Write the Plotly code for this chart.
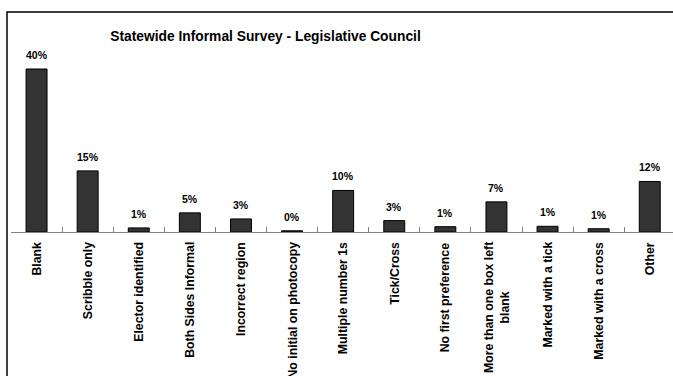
import plotly.graph_objects as go

# Informal vote categories and their share of informal ballots
categories = [
    "Blank",
    "Scribble only",
    "Elector identified",
    "Both Sides Informal",
    "Incorrect region",
    "No initial on photocopy",
    "Multiple number 1s",
    "Tick/Cross",
    "No first preference",
    "More than one box left<br>blank",
    "Marked with a tick",
    "Marked with a cross",
    "Other",
]
shares = [0.400, 0.150, 0.010, 0.047, 0.032, 0.003, 0.102, 0.028, 0.013, 0.074, 0.014, 0.008, 0.124]

title_text = "Statewide Informal Survey - Legislative Council"

FONT = "Liberation Sans, Arial, sans-serif"
W, H = 673, 376
ML, MR, MT, MB = 11, 0, 53, 144

fig = go.Figure()
fig.add_trace(
    go.Bar(
        x=categories,
        y=shares,
        marker=dict(color="#333333", line=dict(color="#000000", width=1)),
        hoverinfo="skip",
    )
)

# value labels above each bar
for c, v in zip(categories, shares):
    fig.add_annotation(
        x=c, y=v, xref="x", yref="y",
        text=f"<b>{v:.0%}</b>",
        showarrow=False, yanchor="bottom", yshift=6,
        font=dict(family=FONT, size=10.5, color="#000000"),
    )

# rotated category labels under the axis
for c in categories:
    fig.add_annotation(
        x=c, y=0, xref="x", yref="paper",
        text=f"<b>{c}</b>",
        showarrow=False, textangle=-90, align="center",
        xanchor="center", yanchor="top", yshift=-8,
        font=dict(family=FONT, size=12.3, color="#000000"),
    )

# outer chart frame (extends past the page edges)
fig.add_shape(
    type="rect", xref="paper", yref="paper",
    x0=(7 - ML) / (W - ML - MR), x1=1.03,
    y0=-1.0, y1=(H - MB - 12) / (H - MB - MT),
    line=dict(color="#000000", width=1.5), fillcolor="rgba(0,0,0,0)",
    layer="below",
)

fig.update_layout(
    width=W, height=H,
    margin=dict(l=ML, r=MR, t=MT, b=MB, pad=0),
    paper_bgcolor="#ffffff", plot_bgcolor="#ffffff",
    showlegend=False,
    bargap=0.59,
    title=dict(
        text=f"<b>{title_text}</b>",
        xref="container", yref="container",
        x=265.5 / W, y=1 - 36 / H, xanchor="center", yanchor="middle",
        font=dict(family=FONT, size=13.8, color="#000000"),
    ),
    xaxis=dict(
        type="category",
        range=[-0.5, 12.455],
        showticklabels=False,
        ticks="inside", tickson="boundaries", ticklen=5,
        tickcolor="#808080", tickwidth=1,
        showline=True, linecolor="#808080", linewidth=1,
        showgrid=False, zeroline=False, fixedrange=True,
    ),
    yaxis=dict(
        range=[0, (H - MB - MT) / 4.075 / 100],
        visible=False, fixedrange=True,
    ),
)

fig.write_html("out.html", config={"displayModeBar": False})
